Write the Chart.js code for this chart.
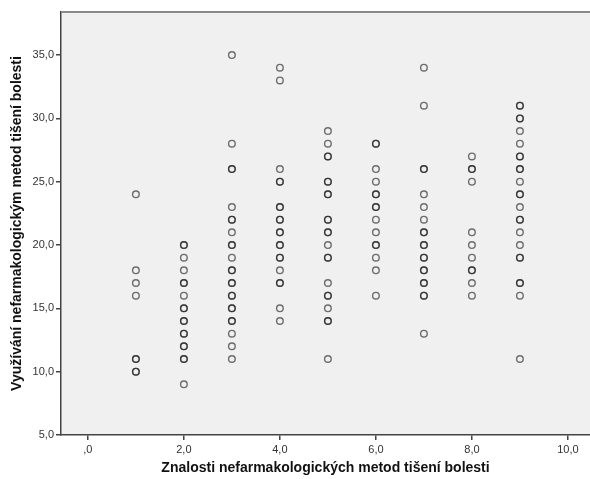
<!DOCTYPE html>
<html>
<head>
<meta charset="utf-8">
<script src="https://cdn.jsdelivr.net/npm/chart.js@4/dist/chart.umd.min.js"></script>
<style>
  html, body { margin: 0; padding: 0; background: #ffffff; overflow: hidden; }
  canvas { display: block; }
</style>
</head>
<body>
<canvas id="c" width="590" height="479"></canvas>
<script>
// Knowledge score of non-pharmacological pain relief methods (x groups)
const knowledgeScores = [1, 2, 3, 4, 5, 6, 7, 8, 9];
// Usage scores reported in each knowledge group; repeated values are respondents sharing a score
const usage1 = [24, 18, 17, 16, 11, 11, 10, 10];
const usage2 = [20, 20, 19, 18, 17, 17, 16, 15, 15, 14, 14, 13, 13, 12, 12, 11, 11, 9];
const usage3 = [35, 28, 26, 26, 23, 22, 22, 21, 20, 20, 19, 18, 18, 17, 17, 16, 16, 15, 15, 14, 14, 13, 12, 11];
const usage4 = [34, 33, 26, 25, 25, 23, 23, 22, 22, 21, 21, 20, 20, 19, 19, 18, 17, 17, 15, 14];
const usage5 = [29, 28, 27, 27, 25, 25, 24, 24, 22, 22, 21, 21, 20, 19, 19, 17, 16, 16, 15, 14, 14, 11];
const usage6 = [28, 28, 26, 25, 24, 24, 23, 23, 22, 21, 20, 20, 19, 18, 16];
const usage7 = [34, 31, 26, 26, 24, 23, 22, 21, 21, 20, 20, 19, 19, 18, 18, 17, 17, 16, 16, 13];
const usage8 = [27, 26, 26, 25, 21, 20, 19, 18, 18, 17, 16];
const usage9 = [31, 31, 30, 30, 29, 28, 27, 27, 26, 26, 25, 24, 24, 23, 22, 22, 21, 20, 19, 19, 17, 17, 16, 11];
const usageGroups = [usage1, usage2, usage3, usage4, usage5, usage6, usage7, usage8, usage9];

const xTicks = [0, 2, 4, 6, 8, 10];
const yTicks = [5, 10, 15, 20, 25, 30, 35];
const xTitle = 'Znalosti nefarmakologických metod tišení bolesti';
const yTitle = 'Využívání nefarmakologickým metod tišení bolesti';

const points = [];
knowledgeScores.forEach((k, i) => {
  usageGroups[i].forEach(u => points.push({ x: k, y: u }));
});

// SPSS style number format: 0 -> ",0", 2 -> "2,0"
const fmt = v => (v === 0 ? ',0' : v.toFixed(1).replace('.', ','));

const plotFrame = {
  id: 'plotFrame',
  beforeDraw(chart) {
    const { ctx, chartArea: a } = chart;
    ctx.save();
    ctx.fillStyle = '#f0f0f0';
    ctx.fillRect(a.left, a.top, a.right - a.left, a.bottom - a.top);
    ctx.restore();
  },
  afterDraw(chart) {
    const { ctx, chartArea: a } = chart;
    ctx.save();
    ctx.strokeStyle = '#8a8a8a';
    ctx.lineWidth = 2;
    ctx.beginPath();
    ctx.moveTo(a.left, a.top);
    ctx.lineTo(a.right, a.top);
    ctx.stroke();
    ctx.restore();
  }
};

const tickFont = { family: 'Liberation Sans', size: 11 };
const titleFont = { family: 'Liberation Sans', size: 14, weight: 'bold' };

new Chart(document.getElementById('c'), {
  type: 'scatter',
  data: {
    datasets: [{
      data: points,
      pointStyle: 'circle',
      pointRadius: 3.3,
      pointHoverRadius: 3.3,
      pointBorderWidth: 1.4,
      borderColor: 'rgba(20,20,20,0.6)',
      backgroundColor: 'rgba(0,0,0,0)'
    }]
  },
  options: {
    responsive: false,
    animation: false,
    devicePixelRatio: 1,
    layout: { autoPadding: false, padding: { top: 12, right: 0, left: 0, bottom: 0 } },
    plugins: { legend: { display: false }, tooltip: { enabled: false } },
    scales: {
      x: {
        type: 'linear',
        min: -0.56,
        max: 10.46,
        afterBuildTicks: s => { s.ticks = xTicks.map(v => ({ value: v })); },
        afterFit: s => { s.height = 44; s.paddingLeft = 0; s.paddingRight = 0; },
        ticks: { callback: fmt, font: tickFont, color: '#333', padding: 3, maxRotation: 0 },
        grid: { drawOnChartArea: false, drawTicks: true, tickLength: 5, color: '#444', lineWidth: 1.5 },
        border: { display: true, color: '#444', width: 1.5 },
        title: { display: true, text: xTitle, font: titleFont, color: '#111', padding: { top: 0, bottom: 2 } }
      },
      y: {
        type: 'linear',
        min: 5,
        max: 38.4,
        afterBuildTicks: s => { s.ticks = yTicks.map(v => ({ value: v })); },
        afterFit: s => { s.width = 61; s.paddingTop = 0; s.paddingBottom = 0; },
        ticks: { callback: fmt, font: tickFont, color: '#333', padding: 2 },
        grid: { drawOnChartArea: false, drawTicks: true, tickLength: 5, color: '#444', lineWidth: 1.5 },
        border: { display: true, color: '#444', width: 1.5 },
        title: { display: true, text: yTitle, font: titleFont, color: '#111', padding: { top: 9, bottom: 0 } }
      }
    }
  },
  plugins: [plotFrame]
});
</script>
</body>
</html>
